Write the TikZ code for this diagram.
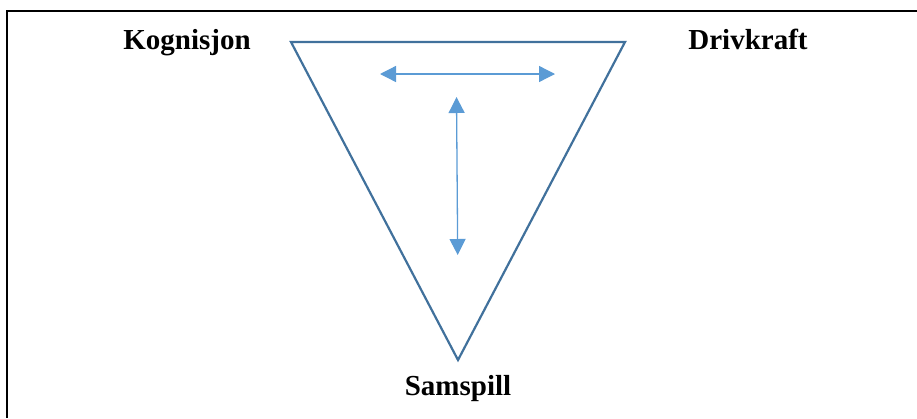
\documentclass[tikz,border=0pt]{standalone}
\usepackage{fontspec}
\setmainfont{Liberation Serif}
\usepackage{xcolor}
\usetikzlibrary{arrows.meta}

\definecolor{triblue}{HTML}{41719C}
\definecolor{arrblue}{HTML}{5B9BD5}

\tikzset{
    label/.style={font=\fontsize{29}{34}\selectfont\bfseries, inner sep=0pt, anchor=base},
    twoway/.style={arrblue, line width=1.3pt,
        {Triangle[length=16pt,width=16pt]}-{Triangle[length=16pt,width=16pt]}}
}

\begin{document}
\begin{tikzpicture}[x=1pt,y=-1pt]
    \useasboundingbox (0,0) rectangle (917,418);
    % Frame
    \draw[line width=2pt] (917,11) -- (7,11) -- (7,418);
    % Triangle
    \draw[triblue, line width=2.2pt, line join=miter]
          (291,42) -- (625,42) -- (458,360) -- cycle;
    % Corner labels
    \node[label] (kog)  at (187,49)  {Kognisjon};
    \node[label] (driv) at (748,49)  {Drivkraft};
    \node[label] (sam)  at (458,395) {Samspill};
    % Arrows inside
    \coordinate (hl) at (380,74);
    \coordinate (hr) at (555,74);
    \coordinate (vt) at (456.5,97);
    \coordinate (vb) at (457.7,255);
    \draw[twoway] (hl) -- (hr);
    \draw[twoway] (vt) -- (vb);
\end{tikzpicture}
\end{document}
